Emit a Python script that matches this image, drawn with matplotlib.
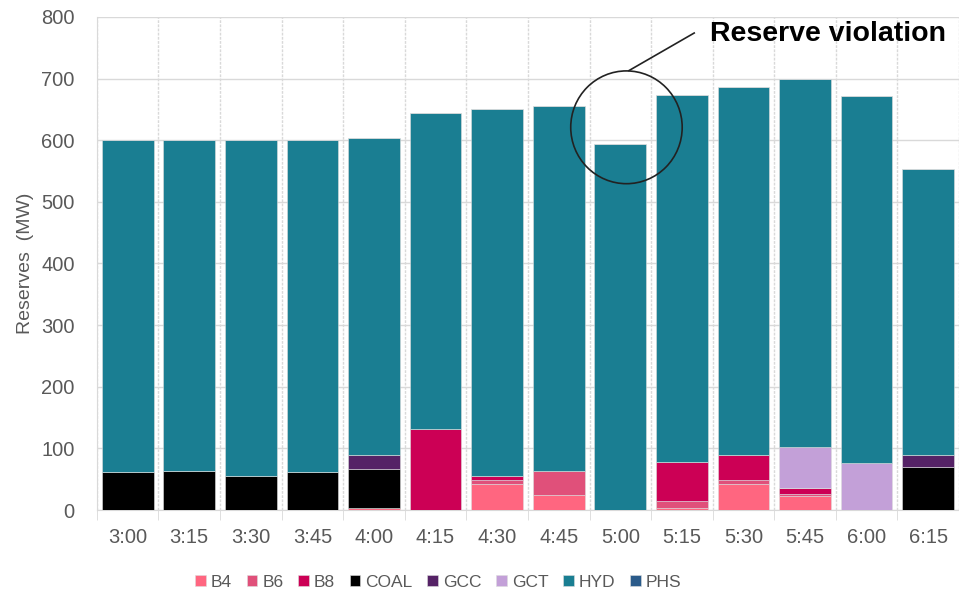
import numpy as np
import matplotlib.pyplot as plt
from matplotlib.patches import Ellipse

plt.rcParams['font.family'] = ['Liberation Sans', 'DejaVu Sans']

times = ['3:00', '3:15', '3:30', '3:45', '4:00', '4:15', '4:30',
         '4:45', '5:00', '5:15', '5:30', '5:45', '6:00', '6:15']

b4   = [0, 0, 0, 0, 3, 0, 43, 25, 0, 3, 43, 23, 0, 0]
b6   = [0, 0, 0, 0, 0, 0, 5, 39, 0, 11, 6, 3, 0, 0]
b8   = [0, 0, 0, 0, 0, 131, 7, 0, 0, 64, 41, 10, 0, 0]
coal = [62, 64, 55, 62, 63, 0, 0, 0, 0, 0, 0, 0, 0, 70]
gcc  = [0, 0, 0, 0, 24, 0, 0, 0, 0, 0, 0, 0, 0, 20]
gct  = [0, 0, 0, 0, 0, 0, 0, 0, 0, 0, 0, 67, 76, 0]
hyd  = [538, 536, 545, 538, 514, 514, 596, 592, 594, 596, 597, 596, 595, 464]
phs  = [0, 0, 0, 0, 0, 0, 0, 0, 0, 0, 0, 0, 0, 0]

series = [('B4', b4, '#ff6680'), ('B6', b6, '#e0507a'), ('B8', b8, '#cc0055'),
          ('COAL', coal, '#000000'), ('GCC', gcc, '#552266'),
          ('GCT', gct, '#c3a0d8'), ('HYD', hyd, '#1a7e92'),
          ('PHS', phs, '#2a5b8a')]

fig = plt.figure(figsize=(9.59, 5.94), dpi=100)
ax = fig.add_axes([0.101, 0.1414, 0.899, 0.83])

x = np.arange(len(times))
bottom = np.zeros(len(times))
for name, vals, col in series:
    vals = np.array(vals, dtype=float)
    ax.bar(x, vals, 0.84, bottom=bottom, color=col, label=name,
           edgecolor='#dddddd', linewidth=0.4, zorder=3)
    bottom += vals

ax.set_xlim(-0.5, 13.39)
ax.set_ylim(0, 800)
ax.set_yticks(np.arange(0, 801, 100))
ax.set_xticks(x)
ax.set_xticklabels(times)
ax.set_xticks(np.arange(-0.5, 14, 1), minor=True)

ax.grid(axis='y', color='#d9d9d9', linewidth=1, zorder=0)
ax.grid(axis='x', which='minor', color='#d9d9d9', linewidth=1, linestyle=(0, (2, 1)), zorder=0)
ax.tick_params(axis='x', which='major', length=0, pad=13, labelsize=14.5, labelcolor='#595959')
ax.tick_params(axis='x', which='minor', length=7, color='#d9d9d9')
ax.tick_params(axis='y', length=0, pad=16, labelsize=14.5, labelcolor='#595959')

for s in ['top', 'right']:
    ax.spines[s].set_visible(False)
ax.spines['left'].set_color('#d9d9d9')
ax.spines['bottom'].set_color('#d9d9d9')

ax.set_ylabel('Reserves  (MW)', fontsize=14, color='#595959', labelpad=5)

# annotation
ax.add_patch(Ellipse((8.1, 621), 1.81, 183, fill=False, edgecolor='#222222',
                     linewidth=1.2, zorder=5, clip_on=False))
ax.plot([8.14, 9.2], [713, 774], color='#222222', linewidth=1.2, zorder=5, clip_on=False)
ax.text(9.45, 772, 'Reserve violation', fontsize=20.5, fontweight='bold',
        va='center', ha='left', zorder=6)

fig.legend(loc='center', bbox_to_anchor=(0.457, 0.02), ncol=8, frameon=False,
           fontsize=12.5, handlelength=0.6, handleheight=0.6, handletextpad=0.3,
           columnspacing=0.85, labelcolor='#595959')

plt.savefig('out.png')
